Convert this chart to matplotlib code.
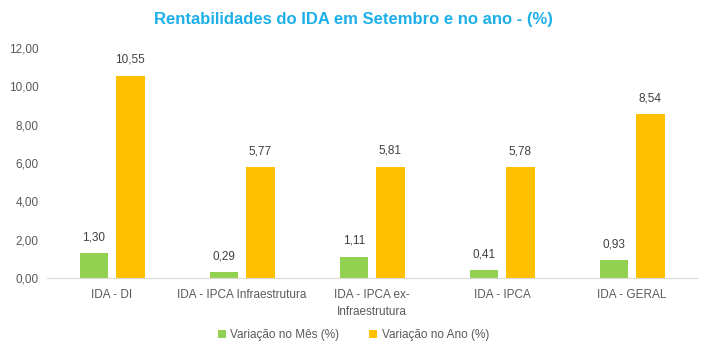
import numpy as np
import matplotlib
matplotlib.use("Agg")
import matplotlib.pyplot as plt

categories = ["IDA - DI", "IDA - IPCA Infraestrutura", "IDA - IPCA ex-\nInfraestrutura", "IDA - IPCA", "IDA - GERAL"]
mes = [1.30, 0.29, 1.11, 0.41, 0.93]
ano = [10.55, 5.77, 5.81, 5.78, 8.54]
series_names = ["Variação no Mês (%)", "Variação no Ano (%)"]
colors = ["#92D050", "#FFC000"]
text_color = "#595959"

plt.rcParams["font.family"] = ["Liberation Sans", "DejaVu Sans"]

fig = plt.figure(figsize=(7.07, 3.55), dpi=100)
ax = fig.add_axes([0.0665, 0.217, 0.9195, 0.648])

x = np.arange(len(categories))
w = 0.22
b1 = ax.bar(x - 0.14, mes, w, color=colors[0], label=series_names[0])
b2 = ax.bar(x + 0.14, ano, w, color=colors[1], label=series_names[1])

for bars, vals in ((b1, mes), (b2, ano)):
    for bar, v in zip(bars, vals):
        ax.annotate(f"{v:.2f}".replace(".", ","), (bar.get_x() + bar.get_width() / 2, v),
                    xytext=(0, 7), textcoords="offset points", ha="center", va="bottom",
                    fontsize=8.5, color="#404040")

ax.set_xlim(-0.5, len(categories) - 0.5)
ax.set_ylim(0, 12)
ax.set_yticks(np.arange(0, 13, 2))
ax.set_yticklabels([f"{t:.2f}".replace(".", ",") for t in np.arange(0, 13, 2)], fontsize=8.5, color=text_color)
ax.set_xticks(x)
ax.set_xticklabels(categories, fontsize=8.5, color=text_color, linespacing=1.5)
ax.tick_params(length=0, pad=8)
ax.tick_params(axis="y", pad=6)
for s in ["top", "right", "left"]:
    ax.spines[s].set_visible(False)
ax.spines["bottom"].set_color("#D9D9D9")

fig.suptitle("Rentabilidades do IDA em Setembro e no ano - (%)", x=0.5, y=0.965,
             fontsize=12, fontweight="bold", color="#1CAFE8")
fig.legend(loc="center", bbox_to_anchor=(0.5, 0.057), ncol=2, frameon=False,
           fontsize=8.5, labelcolor=text_color, handlelength=0.7, handleheight=0.7,
           columnspacing=2.5, handletextpad=0.4)

fig.savefig("out.png", dpi=100)
